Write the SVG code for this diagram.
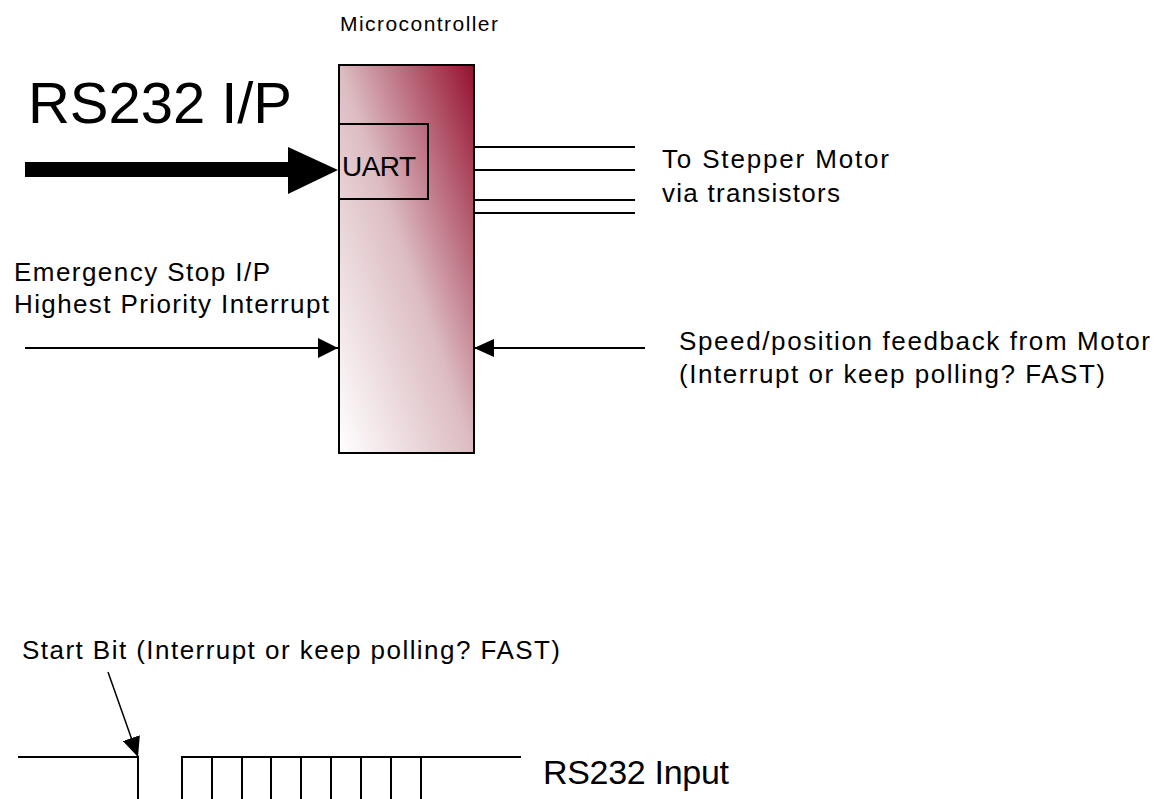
<svg xmlns="http://www.w3.org/2000/svg" width="1160" height="799" viewBox="0 0 1160 799">
  <style>
    .t { font-family: "Liberation Sans", Arial, sans-serif; fill: #000; }
    .m { font-size: 26px; }
    .ln { stroke: #000; stroke-width: 2; fill: none; }
    .thin { stroke: #000; stroke-width: 1.5; fill: none; }
  </style>
  <defs>
    <linearGradient id="mcuGrad" x1="0" y1="1" x2="1" y2="0">
      <stop offset="0" stop-color="#ffffff"/>
      <stop offset="0.5" stop-color="#dcbcc2"/>
      <stop offset="1" stop-color="#95102f"/>
    </linearGradient>
    <marker id="ah" markerUnits="userSpaceOnUse" markerWidth="20" markerHeight="20" viewBox="0 0 20 20" refX="20" refY="10" orient="auto">
      <path d="M0,0 L20,10 L0,20 Z" fill="#000"/>
    </marker>
    <marker id="ahS" markerUnits="userSpaceOnUse" markerWidth="20" markerHeight="18" viewBox="0 0 20 18" refX="20" refY="9" orient="auto">
      <path d="M0,0 L20,9 L0,18 Z" fill="#000"/>
    </marker>
  </defs>

  <g id="microcontroller">
    <text class="t" x="340" y="31" font-size="21" textLength="158" lengthAdjust="spacing">Microcontroller</text>
    <rect x="339" y="65" width="135" height="388" fill="url(#mcuGrad)" stroke="#000" stroke-width="2"/>
  </g>

  <g id="uart">
    <rect x="339" y="124" width="89" height="75" fill="none" stroke="#000" stroke-width="2"/>
    <text class="t" x="342" y="176" font-size="28" textLength="74" lengthAdjust="spacing">UART</text>
  </g>

  <g id="rs232-ip">
    <text class="t" x="28" y="123" font-size="58" textLength="264" lengthAdjust="spacing">RS232 I/P</text>
  </g>

  <g id="stepper-label">
    <text class="t m" x="662" y="168" textLength="227" lengthAdjust="spacing">To Stepper Motor</text>
    <text class="t m" x="662" y="202" textLength="178" lengthAdjust="spacing">via transistors</text>
  </g>

  <g id="estop-label">
    <text class="t m" x="14" y="281" textLength="256" lengthAdjust="spacing">Emergency Stop I/P</text>
    <text class="t m" x="14" y="313" textLength="315" lengthAdjust="spacing">Highest Priority Interrupt</text>
  </g>

  <g id="feedback-label">
    <text class="t m" x="679" y="350" textLength="471" lengthAdjust="spacing">Speed/position feedback from Motor</text>
    <text class="t m" x="679" y="383" textLength="426" lengthAdjust="spacing">(Interrupt or keep polling? FAST)</text>
  </g>

  <g id="startbit-label">
    <text class="t m" x="22" y="659" textLength="538" lengthAdjust="spacing">Start Bit (Interrupt or keep polling? FAST)</text>
  </g>

  <g id="rs232-input">
    <text class="t" x="543" y="784" font-size="34" textLength="186" lengthAdjust="spacing">RS232 Input</text>
  </g>

  <g id="waveform">
    <path class="ln" d="M18,757 H138 V799"/>
    <path class="ln" d="M182,799 V757 H521"/>
    <path class="ln" d="M212,757 V799 M242,757 V799 M271,757 V799 M301,757 V799 M331,757 V799 M361,757 V799 M391,757 V799 M421,757 V799"/>
  </g>

  <g id="connectors">
    <polygon points="25,162 288,162 288,147 338,170 288,194 288,177 25,177" fill="#000"/>
    <path class="ln" d="M474,147 H635 M474,170 H635 M474,200 H635 M474,213 H635"/>
    <path class="ln" d="M25,348 H338" marker-end="url(#ah)"/>
    <path class="ln" d="M645,348 H474" marker-end="url(#ahS)"/>
    <path class="thin" d="M108,672 L138,757" marker-end="url(#ahS)"/>
  </g>
</svg>
